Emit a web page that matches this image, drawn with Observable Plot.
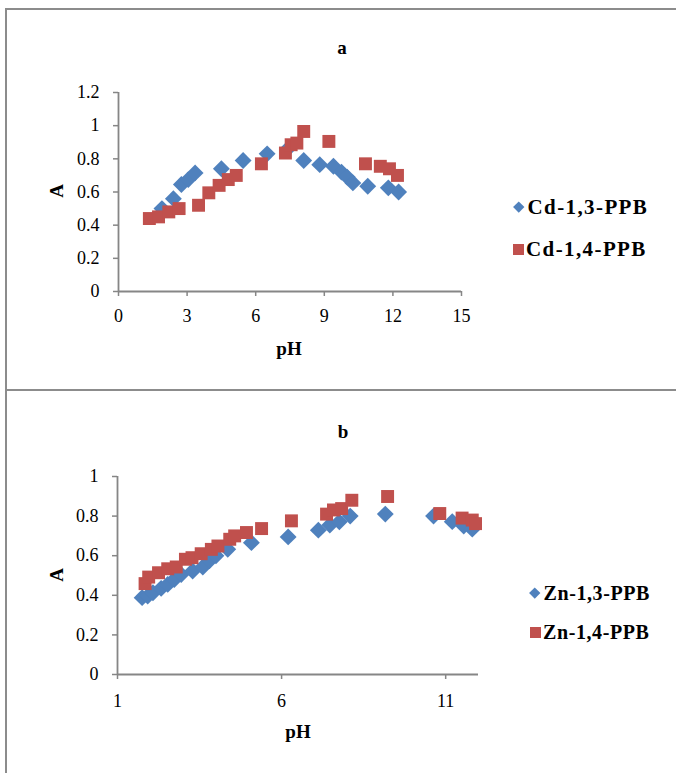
<!DOCTYPE html>
<html>
<head>
<meta charset="utf-8">
<script src="https://cdn.jsdelivr.net/npm/d3@7"></script>
<script src="https://cdn.jsdelivr.net/npm/@observablehq/plot@0.6"></script>
<style>
  html, body { margin: 0; padding: 0; background: #fff; }
  #page { position: relative; width: 676px; height: 773px; overflow: hidden; background: #fff;
          font-family: "Liberation Serif", "Times New Roman", serif; color: #000; }
  .abs { position: absolute; white-space: nowrap; line-height: 1; }
  .bold { font-weight: bold; font-size: 19px; }
  .frame-left { position: absolute; left: 5px; top: 8px; width: 2px; height: 770px; background: #8c8c8c; }
  .frame-top { position: absolute; left: 5px; top: 8px; width: 680px; height: 2px; background: #8c8c8c; }
  .frame-sep { position: absolute; left: 5px; top: 389px; width: 680px; height: 2px; background: #8c8c8c; }
  .leg { position: absolute; display: flex; align-items: center; font-weight: bold; white-space: nowrap; }
  .diamond { display: inline-block; width: 7.5px; height: 7.5px; transform: rotate(45deg); margin: 0 5px 0 2px; }
  .square { display: inline-block; width: 11px; height: 11px; margin-right: 2px; }
  .plot { position: absolute; left: 0; }
</style>
</head>
<body>
<div id="page">
  <div class="frame-left"></div>
  <div class="frame-top"></div>
  <div class="frame-sep"></div>
</div>
<script>
// ---------- data ----------
const blue = "#4F81BD";
const red = "#C0504D";
const axisColor = "#868686";

// Panel a
const seriesA = ["Cd-1,3-PPB", "Cd-1,4-PPB"];
const phCd13 = [1.9, 2.4, 2.75, 3.05, 3.35, 4.5, 5.45, 6.5, 7.4, 8.1, 8.8, 9.4, 9.75, 10.0, 10.25, 10.9, 11.8, 12.25];
const aCd13  = [0.50, 0.56, 0.645, 0.675, 0.715, 0.74, 0.79, 0.83, 0.86, 0.79, 0.765, 0.755, 0.72, 0.69, 0.655, 0.635, 0.625, 0.60];
const phCd14 = [1.35, 1.75, 2.2, 2.65, 3.5, 3.95, 4.4, 4.8, 5.15, 6.25, 7.3, 7.55, 7.8, 8.1, 9.2, 10.8, 11.45, 11.85, 12.2];
const aCd14  = [0.44, 0.45, 0.48, 0.50, 0.52, 0.595, 0.64, 0.675, 0.70, 0.77, 0.835, 0.885, 0.895, 0.965, 0.905, 0.77, 0.755, 0.74, 0.70];
const xTicksA = [0, 3, 6, 9, 12, 15];
const yTicksA = [0, 0.2, 0.4, 0.6, 0.8, 1, 1.2];

// Panel b
const seriesB = ["Zn-1,3-PPB", "Zn-1,4-PPB"];
const phZn13 = [1.75, 1.92, 2.08, 2.33, 2.53, 2.73, 2.94, 3.29, 3.6, 3.8, 4.0, 4.36, 5.08, 6.2, 7.12, 7.47, 7.76, 8.09, 9.16, 10.63, 11.2, 11.55, 11.81];
const aZn13  = [0.388, 0.396, 0.413, 0.435, 0.455, 0.48, 0.505, 0.523, 0.543, 0.574, 0.60, 0.632, 0.666, 0.695, 0.729, 0.755, 0.771, 0.80, 0.81, 0.80, 0.772, 0.75, 0.734];
const phZn14 = [1.84, 1.95, 2.25, 2.53, 2.79, 3.07, 3.27, 3.55, 3.86, 4.06, 4.42, 4.57, 4.93, 5.39, 6.3, 7.37, 7.58, 7.83, 8.14, 9.23, 10.82, 11.5, 11.81, 11.91];
const aZn14  = [0.459, 0.492, 0.514, 0.534, 0.543, 0.582, 0.59, 0.61, 0.632, 0.649, 0.683, 0.70, 0.717, 0.737, 0.776, 0.81, 0.831, 0.838, 0.88, 0.899, 0.813, 0.79, 0.78, 0.762];
const xTicksB = [1, 6, 11];
const yTicksB = [0, 0.2, 0.4, 0.6, 0.8, 1];

const titles = ["a", "b"];
const xLabel = "pH";
const yLabel = "A";

// ---------- helpers ----------
const toRows = (xs, ys) => xs.map((x, i) => ({pH: x, A: ys[i]}));
const fontStyle = {fontFamily: "'Liberation Serif', 'Times New Roman', serif", fontSize: "18px", color: "black", background: "transparent", overflow: "visible"};

function panel({xDomain, yDomain, xTicks, yTicks, s1, s2, margins, width, height, xPad}) {
  return Plot.plot({
    width, height,
    ...margins,
    x: {domain: xDomain},
    y: {domain: yDomain},
    style: fontStyle,
    marks: [
      Plot.axisX({ticks: xTicks, tickSize: 5, tickPadding: xPad, stroke: axisColor, strokeWidth: 1.5, fill: "black", label: null, tickFormat: d => String(d)}),
      Plot.axisY({ticks: yTicks, tickSize: 5, tickPadding: 14, stroke: axisColor, strokeWidth: 1.5, fill: "black", label: null, tickFormat: d => String(d)}),
      Plot.ruleY([yDomain[0]], {stroke: axisColor, strokeWidth: 1.8}),
      Plot.ruleX([xDomain[0]], {stroke: axisColor, strokeWidth: 1.8}),
      Plot.dot(s1, {x: "pH", y: "A", symbol: "diamond2", r: 7.6, fill: blue}),
      Plot.dot(s2, {x: "pH", y: "A", symbol: "square", r: 7.3, fill: red})
    ]
  });
}

const page = document.getElementById("page");

const plotA = panel({
  xDomain: [0, 15], yDomain: [0, 1.2], xTicks: xTicksA, yTicks: yTicksA,
  s1: toRows(phCd13, aCd13), s2: toRows(phCd14, aCd14),
  width: 500, height: 380,
  margins: {marginLeft: 118, marginRight: 39, marginTop: 92, marginBottom: 89},
  xPad: 13
});
plotA.classList.add("plot");
plotA.style.top = "0px";
page.appendChild(plotA);

const plotB = panel({
  xDomain: [1, 12], yDomain: [0, 1], xTicks: xTicksB, yTicks: yTicksB,
  s1: toRows(phZn13, aZn13), s2: toRows(phZn14, aZn14),
  width: 500, height: 360,
  margins: {marginLeft: 117, marginRight: 22, marginTop: 76, marginBottom: 86},
  xPad: 15
});
plotB.classList.add("plot");
plotB.style.top = "400px";
page.appendChild(plotB);

// ---------- text overlays ----------
function addText(txt, cx, baseline, cls, rotate) {
  const d = document.createElement("div");
  d.className = "abs " + cls;
  d.textContent = txt;
  if (rotate) {
    d.style.left = cx + "px";
    d.style.top = baseline + "px";
    d.style.transform = "translate(-50%, -50%) rotate(-90deg)";
  } else {
    d.style.left = cx + "px";
    d.style.top = (baseline - 15) + "px";
    d.style.transform = "translateX(-50%)";
  }
  page.appendChild(d);
}
addText(titles[0], 342, 53, "bold");
addText(titles[1], 343, 437, "bold");
addText(xLabel, 289, 354, "bold");
addText(xLabel, 298, 737, "bold");
addText(yLabel, 56, 191, "bold", true);
addText(yLabel, 56, 575, "bold", true);

function addLegend(label, kind, color, left, cy, size, spacing) {
  const d = document.createElement("div");
  d.className = "leg";
  d.style.left = left + "px";
  d.style.top = (cy - 12) + "px";
  d.style.height = "24px";
  d.style.fontSize = size + "px";
  const m = document.createElement("span");
  m.className = kind;
  m.style.background = color;
  const t = document.createElement("span");
  t.textContent = label;
  t.style.letterSpacing = spacing + "px";
  d.appendChild(m);
  d.appendChild(t);
  page.appendChild(d);
}
addLegend(seriesA[0], "diamond", blue, 513, 207, 21, 1.4);
addLegend(seriesA[1], "square", red, 513, 249, 21, 1.4);
addLegend(seriesB[0], "diamond", blue, 529, 593, 20, 0.6);
addLegend(seriesB[1], "square", red, 530, 632, 20, 0.6);
</script>
</body>
</html>
